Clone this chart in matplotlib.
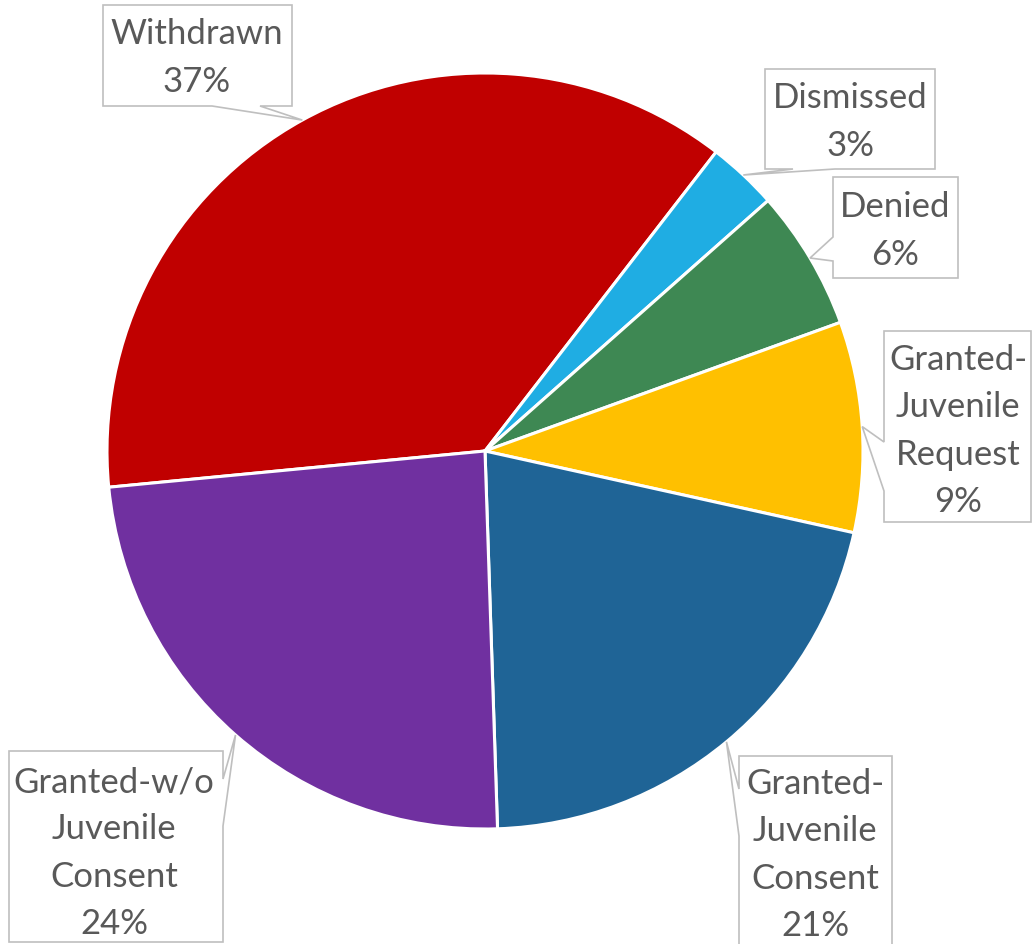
import numpy as np
import matplotlib
matplotlib.use("Agg")
import matplotlib.pyplot as plt
from matplotlib.patches import Polygon

# Case outcomes (share of petitions, %)
categories = ["Withdrawn", "Dismissed", "Denied",
              "Granted-\nJuvenile\nRequest",
              "Granted-\nJuvenile\nConsent",
              "Granted-w/o\nJuvenile\nConsent"]
shares = [37, 3, 6, 9, 21, 24]
colors = ["#C00000", "#1FADE3", "#3E8853", "#FFC000", "#1F6496", "#7030A0"]

W, H = 1033, 945
fig = plt.figure(figsize=(W / 100, H / 100), dpi=100)
ax = fig.add_axes([0, 0, 1, 1])

cx, cy, R = 485, H - 452, 378
start = -174.5  # first slice begins just below 9 o'clock, running clockwise

wedges, _ = ax.pie(shares, colors=colors, startangle=start, counterclock=False,
                   center=(cx, cy), radius=R,
                   wedgeprops=dict(edgecolor="white", linewidth=2.2))
ax.set_xlim(0, W)
ax.set_ylim(0, H)
ax.set_aspect("equal")
ax.axis("off")

# callout boxes: (left, top, right, bottom) in image pixels, side of pointer,
# pointer base span along that side, and text centre
layout = [
    dict(box=(103, 6, 292, 107), side="bottom", base=(212, 260), text=(197, 58)),
    dict(box=(765, 70, 935, 170), side="bottom", base=(793, 835), text=(850, 122)),
    dict(box=(833, 178, 958, 279), side="left", base=(238, 262), text=(895, 231)),
    dict(box=(884, 332, 1031, 523), side="left", base=(443, 492), text=(958, 431)),
    dict(box=(739, 757, 892, 990), side="left", base=(790, 837), text=(815, 855)),
    dict(box=(9, 752, 223, 943), side="right", base=(780, 827), text=(114, 853)),
]

fy = lambda y: H - y  # image rows -> axes y

for w, cat, val, lay in zip(wedges, categories, shares, layout):
    mid = np.deg2rad((w.theta1 + w.theta2) / 2)
    tip = (cx + R * np.cos(mid), cy + R * np.sin(mid))
    l, t, r, b = lay["box"]
    b0, b1 = lay["base"]
    if lay["side"] == "bottom":
        pts = [(l, t), (r, t), (r, b), (b1, b), None, (b0, b), (l, b)]
    elif lay["side"] == "left":
        pts = [(l, t), (r, t), (r, b), (l, b), (l, b1), None, (l, b0)]
    else:
        pts = [(l, t), (r, t), (r, b0), None, (r, b1), (r, b), (l, b)]
    poly = [tip if p is None else (p[0], fy(p[1])) for p in pts]
    ax.add_patch(Polygon(poly, closed=True, facecolor="white",
                         edgecolor="#BFBFBF", linewidth=1.2, zorder=3,
                         clip_on=False))
    tx, ty = lay["text"]
    ax.text(tx, fy(ty), f"{cat}\n{val}%", ha="center", va="center",
            multialignment="center", fontsize=25, family="Lato",
            color="#595959", linespacing=1.58, zorder=4)

fig.savefig("out.png", dpi=100)
